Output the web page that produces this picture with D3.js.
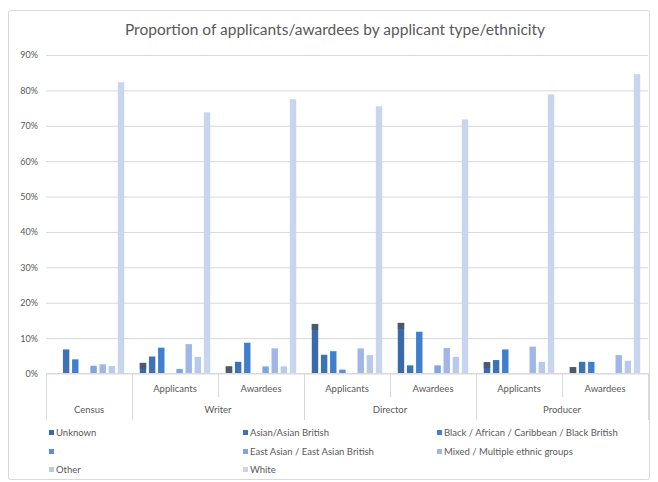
<!DOCTYPE html>
<html>
<head>
<meta charset="utf-8">
<script src="https://cdn.jsdelivr.net/npm/d3@7"></script>
<style>
  html, body { margin: 0; padding: 0; background: #ffffff; }
  svg { display: block; font-family: Lato, "Liberation Sans", sans-serif; }
</style>
</head>
<body>
<div id="chart"></div>
<script>
// ---- data ----
const title = "Proportion of applicants/awardees by applicant type/ethnicity";
const groups = ["Census", "Writer Applicants", "Writer Awardees", "Director Applicants", "Director Awardees", "Producer Applicants", "Producer Awardees"];
const innerLabels = ["", "Applicants", "Awardees", "Applicants", "Awardees", "Applicants", "Awardees"];
const outerLabels = [
  { label: "Census", from: 0, to: 1 },
  { label: "Writer", from: 1, to: 3 },
  { label: "Director", from: 3, to: 5 },
  { label: "Producer", from: 5, to: 7 }
];
const seriesNames = ["Unknown", "Asian/Asian British", "Black / African / Caribbean / Black British", "", "East Asian / East Asian British", "Mixed / Multiple ethnic groups", "Other", "White"];
const seriesColors = ["#3a6aa8", "#3d72b6", "#3f7fcc", "#5b8fd4", "#7fa5de", "#9fb6e6", "#b8c9ea", "#c8d5ef"];
// values in %, one array per group, ordered like seriesNames
const census             = [0,    6.8, 4.0,  0,   2.2, 2.6, 2.1, 82.3];
const writerApplicants   = [3.0,  4.8, 7.3,  0,   1.3, 8.3, 4.7, 73.8];
const writerAwardees     = [2.0,  3.3, 8.7,  0,   2.0, 7.1, 2.0, 77.5];
const directorApplicants = [14.0, 5.3, 6.3,  1.1, 0,   7.1, 5.2, 75.5];
const directorAwardees   = [14.3, 2.3, 11.8, 0,   2.3, 7.2, 4.7, 71.8];
const producerApplicants = [3.2,  3.8, 6.8,  0,   0,   7.6, 3.3, 78.9];
const producerAwardees   = [1.8,  3.3, 3.3,  0,   0,   5.2, 3.6, 84.6];
const groupValues = [census, writerApplicants, writerAwardees, directorApplicants, directorAwardees, producerApplicants, producerAwardees];
const yTicks = [0, 10, 20, 30, 40, 50, 60, 70, 80, 90];

// ---- layout ----
const W = 658, H = 482;
const plotLeft = 46, plotRight = 648, plotTop = 55, plotBase = 373.5;
const textColor = "#595959", gridColor = "#d9d9d9";

const svg = d3.select("#chart").append("svg").attr("width", W).attr("height", H);
svg.append("rect").attr("width", W).attr("height", H).attr("fill", "#fff");
svg.append("rect").attr("x", 8.5).attr("y", 10.5).attr("width", 641).attr("height", 469)
  .attr("fill", "none").attr("stroke", gridColor).attr("rx", 2);

svg.append("text").attr("x", 335).attr("y", 35).attr("text-anchor", "middle")
  .attr("font-size", 15.5).attr("fill", textColor).text(title);

const y = d3.scaleLinear().domain([0, 90]).range([plotBase, plotTop]);
const x0 = d3.scaleBand().domain(groups).range([plotLeft, plotRight]).paddingInner(0).paddingOuter(0);
const x1 = d3.scaleBand().domain(d3.range(seriesNames.length)).range([0, x0.bandwidth()])
  .paddingInner(0.3).paddingOuter(0.85);

// y axis (gridlines + labels)
const yAxis = d3.axisLeft(y).tickValues(yTicks).tickSize(-(plotRight - plotLeft)).tickFormat(d => d + "%").tickPadding(8);
const gy = svg.append("g").attr("transform", `translate(${plotLeft},0)`).call(yAxis);
gy.select(".domain").remove();
gy.selectAll(".tick line").attr("stroke", gridColor);
gy.selectAll(".tick text").attr("fill", textColor).attr("font-size", 9).attr("font-family", "Lato, sans-serif");

// bars
const g = svg.append("g");
groups.forEach((grp, gi) => {
  const vals = groupValues[gi];
  const gg = g.append("g").attr("transform", `translate(${x0(grp)},0)`);
  gg.selectAll("rect.bar").data(vals.map((v, i) => ({ v, i })).filter(d => d.v > 0)).join("rect")
    .attr("class", "bar")
    .attr("x", d => x1(d.i)).attr("width", x1.bandwidth())
    .attr("y", d => y(d.v)).attr("height", d => y(0) - y(d.v))
    .attr("fill", d => seriesColors[d.i]);
  // darker cap on Unknown bars (as in reference rendering)
  gg.selectAll("rect.cap").data(vals.map((v, i) => ({ v, i })).filter(d => d.i === 0 && d.v > 0)).join("rect")
    .attr("class", "cap")
    .attr("x", d => x1(d.i)).attr("width", x1.bandwidth())
    .attr("y", d => y(d.v)).attr("height", d => Math.min(6, y(0) - y(d.v)))
    .attr("fill", "#4d5868");
});

// x axis baseline
svg.append("line").attr("x1", plotLeft).attr("x2", plotRight).attr("y1", plotBase).attr("y2", plotBase).attr("stroke", gridColor);

// separators
const mainBounds = [0, 1, 3, 5, 7];
mainBounds.forEach(b => {
  const xx = b < groups.length ? x0(groups[b]) : plotRight;
  svg.append("line").attr("x1", xx + 0.5).attr("x2", xx + 0.5).attr("y1", plotBase).attr("y2", 420).attr("stroke", gridColor);
});
[2, 4, 6].forEach(b => {
  const xx = x0(groups[b]);
  svg.append("line").attr("x1", xx + 0.5).attr("x2", xx + 0.5).attr("y1", plotBase).attr("y2", 397).attr("stroke", gridColor);
});

// inner labels
groups.forEach((grp, gi) => {
  if (!innerLabels[gi]) return;
  svg.append("text").attr("x", x0(grp) + x0.bandwidth() / 2).attr("y", 392)
    .attr("text-anchor", "middle").attr("font-size", 9.5).attr("fill", textColor).text(innerLabels[gi]);
});
// outer labels
outerLabels.forEach(o => {
  const xa = x0(groups[o.from]);
  const xb = o.to < groups.length ? x0(groups[o.to]) : plotRight;
  svg.append("text").attr("x", (xa + xb) / 2).attr("y", 413)
    .attr("text-anchor", "middle").attr("font-size", 9.5).attr("fill", textColor).text(o.label);
});

// legend
const legCols = [49, 243, 437], legRows = [433, 452, 470];
seriesNames.forEach((name, i) => {
  const cx = legCols[i % 3], cy = legRows[Math.floor(i / 3)];
  svg.append("rect").attr("x", cx).attr("y", cy - 3).attr("width", 5).attr("height", 5).attr("fill", seriesColors[i]);
  svg.append("text").attr("x", cx + 7).attr("y", cy + 3).attr("font-size", 9.5).attr("fill", textColor).text(name);
});
</script>
</body>
</html>
